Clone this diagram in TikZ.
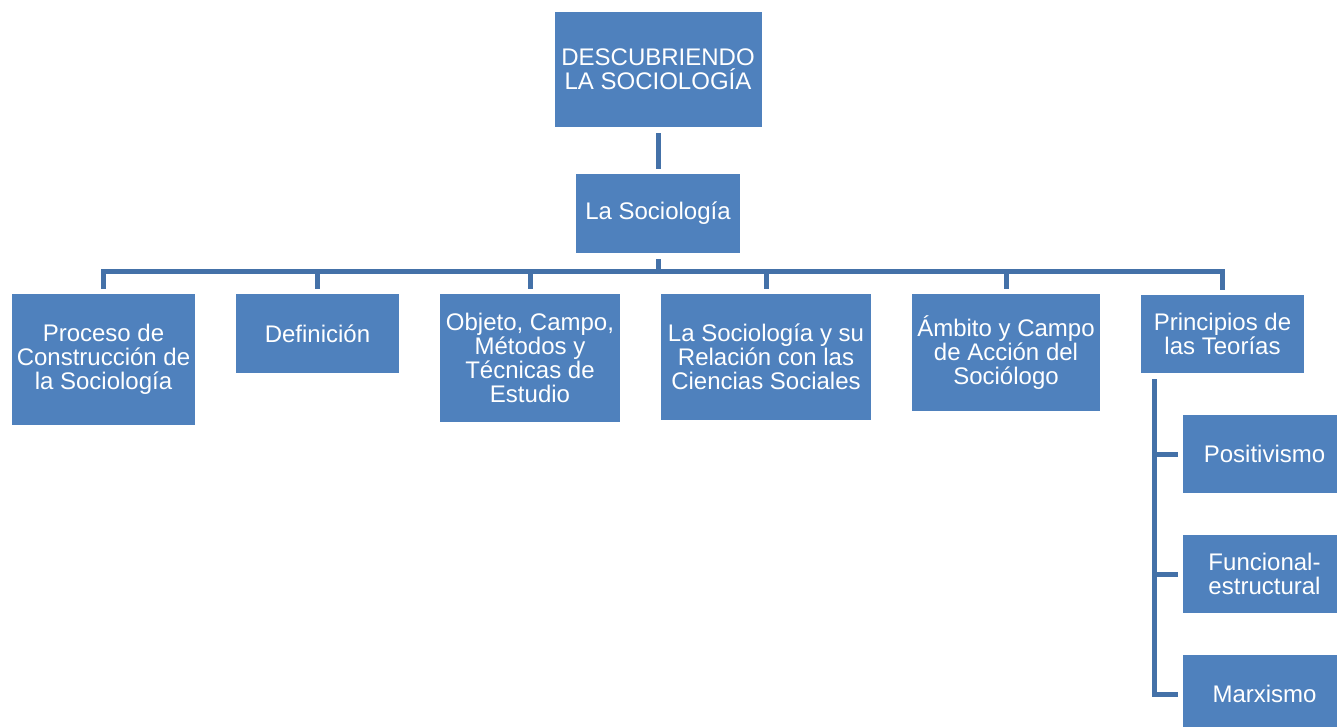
\documentclass[tikz,border=0pt]{standalone}
\usepackage{fontspec}
\setmainfont{Liberation Sans}
\definecolor{boxblue}{HTML}{4F81BD}
\definecolor{connblue}{HTML}{4471A8}
\begin{document}
\begin{tikzpicture}[x=0.5pt,y=-0.5pt,
  bx/.style 2 args={rectangle,fill=boxblue,text=white,align=center,inner sep=0pt,
     minimum width=#1*0.5pt,minimum height=#2*0.5pt,
     font=\fontsize{12pt}{12pt}\selectfont},
  conn/.style={draw=connblue,line width=2.5pt,shorten <=3pt,shorten >=2.5pt}]
\useasboundingbox (0,0) rectangle (1337,727);
\clip (0,0) rectangle (1337,727);
\node[bx={207}{115}] (top) at (658,69.5) {DESCUBRIENDO\\LA SOCIOLOGÍA};
\node[bx={164}{79}] (soc) at (658,213.5) {La Sociología};
\node[bx={183}{131}] (proc) at (103.5,359.5) {Proceso de\\Construcción de\\la Sociología};
\node[bx={163}{79}] (def) at (317.5,333.5) {Definición};
\node[bx={180}{128}] (obj) at (530,358) {Objeto, Campo,\\Métodos y\\Técnicas de\\Estudio};
\node[bx={210}{126}] (rel) at (766,357) {La Sociología y su\\Relación con las\\Ciencias Sociales};
\node[bx={188}{117}] (amb) at (1006,352.5) {Ámbito y Campo\\de Acción del\\Sociólogo};
\node[bx={163}{78}] (pri) at (1222.5,334) {Principios de\\las Teorías};
\node[bx={163}{78}] (pos) at (1264.5,454) {Positivismo};
\node[bx={163}{78}] (fun) at (1264.5,574) {Funcional-\\estructural};
\node[bx={163}{78}] (mar) at (1264.5,694) {Marxismo};
\draw[conn] (top.south) -- (soc.north);
\foreach \c in {proc,def,obj,rel,amb,pri}
  \draw[conn] (soc.south) -- ++(0,18) -| (\c.north);
\foreach \c in {pos,fun,mar}
  \draw[conn,shorten >=2.5pt] ([xshift=7pt]pri.south west) |- (\c.west);
\end{tikzpicture}
\end{document}
